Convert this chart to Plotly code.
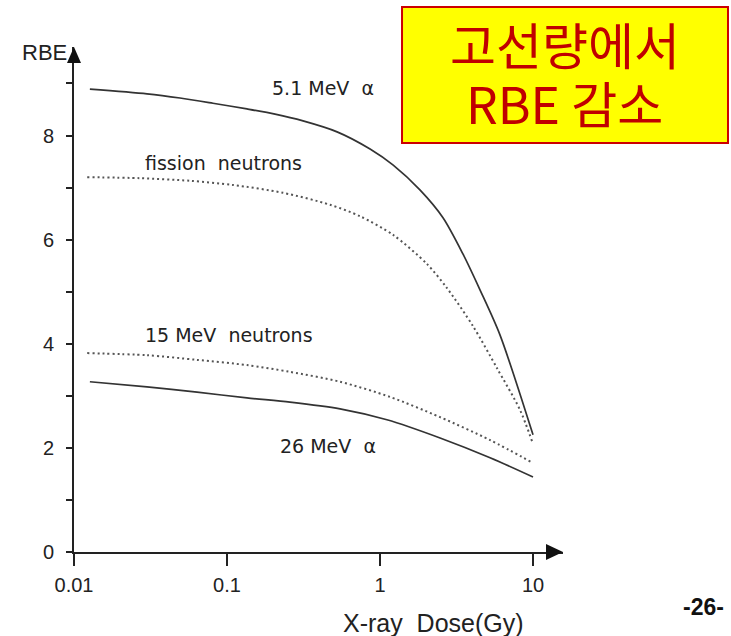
import plotly.graph_objects as go

# ---- data ----
dose_51 = [0.0127, 0.0300, 0.0493, 0.0809, 0.135, 0.206, 0.314, 0.524, 0.861, 1.22, 1.83, 2.58, 3.49, 4.51, 6.08, 10.0]
rbe_51 = [8.89, 8.80, 8.72, 8.62, 8.51, 8.41, 8.28, 8.07, 7.74, 7.43, 6.95, 6.42, 5.72, 5.03, 4.17, 2.25]

dose_fis = [0.0122, 0.0270, 0.0573, 0.109, 0.232, 0.471, 0.740, 1.22, 2.03, 2.74, 4.05, 5.82, 8.22, 9.85]
rbe_fis = [7.20, 7.18, 7.13, 7.05, 6.90, 6.67, 6.45, 6.09, 5.53, 5.07, 4.34, 3.53, 2.73, 2.13]

dose_15 = [0.0122, 0.0300, 0.0637, 0.135, 0.258, 0.548, 1.16, 2.47, 5.24, 10.0]
rbe_15 = [3.82, 3.78, 3.69, 3.59, 3.46, 3.27, 2.98, 2.59, 2.15, 1.71]

dose_26 = [0.0127, 0.0300, 0.0637, 0.135, 0.258, 0.548, 1.11, 2.47, 5.24, 10.0]
rbe_26 = [3.27, 3.17, 3.07, 2.96, 2.88, 2.75, 2.54, 2.19, 1.81, 1.44]

x_tickvals = [0.01, 0.1, 1, 10]
x_ticktext = ["0.01", "0.1", "1", "10"]
y_tickvals = [0, 1, 2, 3, 4, 5, 6, 7, 8, 9]
y_ticktext = ["0", "", "2", "", "4", "", "6", "", "8", ""]

LABEL_FONT = dict(family="DejaVu Sans, sans-serif", size=19, color="#222222")
AX_FONT = "Liberation Sans, Arial, sans-serif"
KR = "Noto Sans CJK KR, sans-serif"

fig = go.Figure()
fig.add_trace(go.Scatter(x=dose_51, y=rbe_51, mode="lines",
                         line=dict(color="#333333", width=1.7, shape="spline", smoothing=0.8),
                         name="5.1 MeV α"))
fig.add_trace(go.Scatter(x=dose_fis, y=rbe_fis, mode="lines",
                         line=dict(color="#555555", width=2, dash="2px,3px", shape="spline", smoothing=0.8),
                         name="fission neutrons"))
fig.add_trace(go.Scatter(x=dose_15, y=rbe_15, mode="lines",
                         line=dict(color="#555555", width=2, dash="2px,3px", shape="spline", smoothing=0.8),
                         name="15 MeV neutrons"))
fig.add_trace(go.Scatter(x=dose_26, y=rbe_26, mode="lines",
                         line=dict(color="#333333", width=1.7, shape="spline", smoothing=0.8),
                         name="26 MeV α"))

annotations = [
    dict(x=-0.719, y=8.91, xref="x", yref="y", text="5.1 MeV  α", showarrow=False,
         xanchor="left", yanchor="middle", font=LABEL_FONT),
    dict(x=-1.549, y=7.47, xref="x", yref="y", text="fission  neutrons", showarrow=False,
         xanchor="left", yanchor="middle", font=LABEL_FONT),
    dict(x=-1.549, y=4.17, xref="x", yref="y", text="15 MeV  neutrons", showarrow=False,
         xanchor="left", yanchor="middle", font=LABEL_FONT),
    dict(x=-0.667, y=2.04, xref="x", yref="y", text="26 MeV  α", showarrow=False,
         xanchor="left", yanchor="middle", font=LABEL_FONT),
    # axis names
    dict(x=-0.0613, y=0.990, xref="paper", yref="paper", text="RBE", showarrow=False,
         xanchor="center", yanchor="middle", font=dict(family=AX_FONT, size=22, color="#222")),
    dict(x=0.736, y=-0.1406, xref="paper", yref="paper", text="X-ray  Dose(Gy)", showarrow=False,
         xanchor="center", yanchor="middle", font=dict(family=AX_FONT, size=25, color="#222")),
    # page number
    dict(x=1.288, y=-0.109, xref="paper", yref="paper", text="<b>-26-</b>", showarrow=False,
         xanchor="center", yanchor="middle", font=dict(family=AX_FONT, size=23, color="#111")),
    # yellow callout text
    dict(x=1.004, y=1.008, xref="paper", yref="paper", text="고선량에서", showarrow=False,
         xanchor="center", yanchor="middle",
         font=dict(family=KR, size=50, color="#C00000")),
    dict(x=1.004, y=0.891, xref="paper", yref="paper", text="RBE 감소", showarrow=False,
         xanchor="center", yanchor="middle",
         font=dict(family=KR, size=50, color="#C00000")),
]

shapes = [
    dict(type="rect", xref="paper", yref="paper", x0=0.6708, x1=1.3374, y0=0.8099, y1=1.0792,
         fillcolor="#FFFF00", line=dict(color="#CC0000", width=2), layer="below"),
    # axis arrowheads
    dict(type="path", xref="paper", yref="paper", xsizemode="pixel", ysizemode="pixel",
         xanchor=0, yanchor=1, path="M -7,-16 L 7,-16 L 0,0 Z", fillcolor="#111", line=dict(width=0)),
    dict(type="path", xref="paper", yref="paper", xsizemode="pixel", ysizemode="pixel",
         xanchor=1, yanchor=0, path="M -17,8 L -17,-8 L 0,0 Z", fillcolor="#111", line=dict(width=0)),
]

fig.update_layout(
    width=731, height=636,
    margin=dict(l=74, r=168, t=47, b=84),
    paper_bgcolor="white", plot_bgcolor="white",
    showlegend=False,
    annotations=annotations,
    shapes=shapes,
    xaxis=dict(type="log", range=[-2, 1.196], showgrid=False, zeroline=False,
               showline=True, linecolor="#222", linewidth=2,
               tickvals=x_tickvals, ticktext=x_ticktext, ticks="outside", ticklen=12,
               tickwidth=2, tickcolor="#222", ticklabelstandoff=2,
               tickfont=dict(family=AX_FONT, size=20, color="#222")),
    yaxis=dict(range=[0, 9.70], showgrid=False, zeroline=False,
               showline=True, linecolor="#222", linewidth=2,
               tickvals=y_tickvals, ticktext=y_ticktext, ticks="outside", ticklen=6,
               tickwidth=2, tickcolor="#222", ticklabelstandoff=8,
               tickfont=dict(family=AX_FONT, size=20, color="#222")),
)

fig.write_html("out.html", config={"displayModeBar": False},
               post_script="document.body.style.margin='0';document.body.style.overflow='hidden';")
